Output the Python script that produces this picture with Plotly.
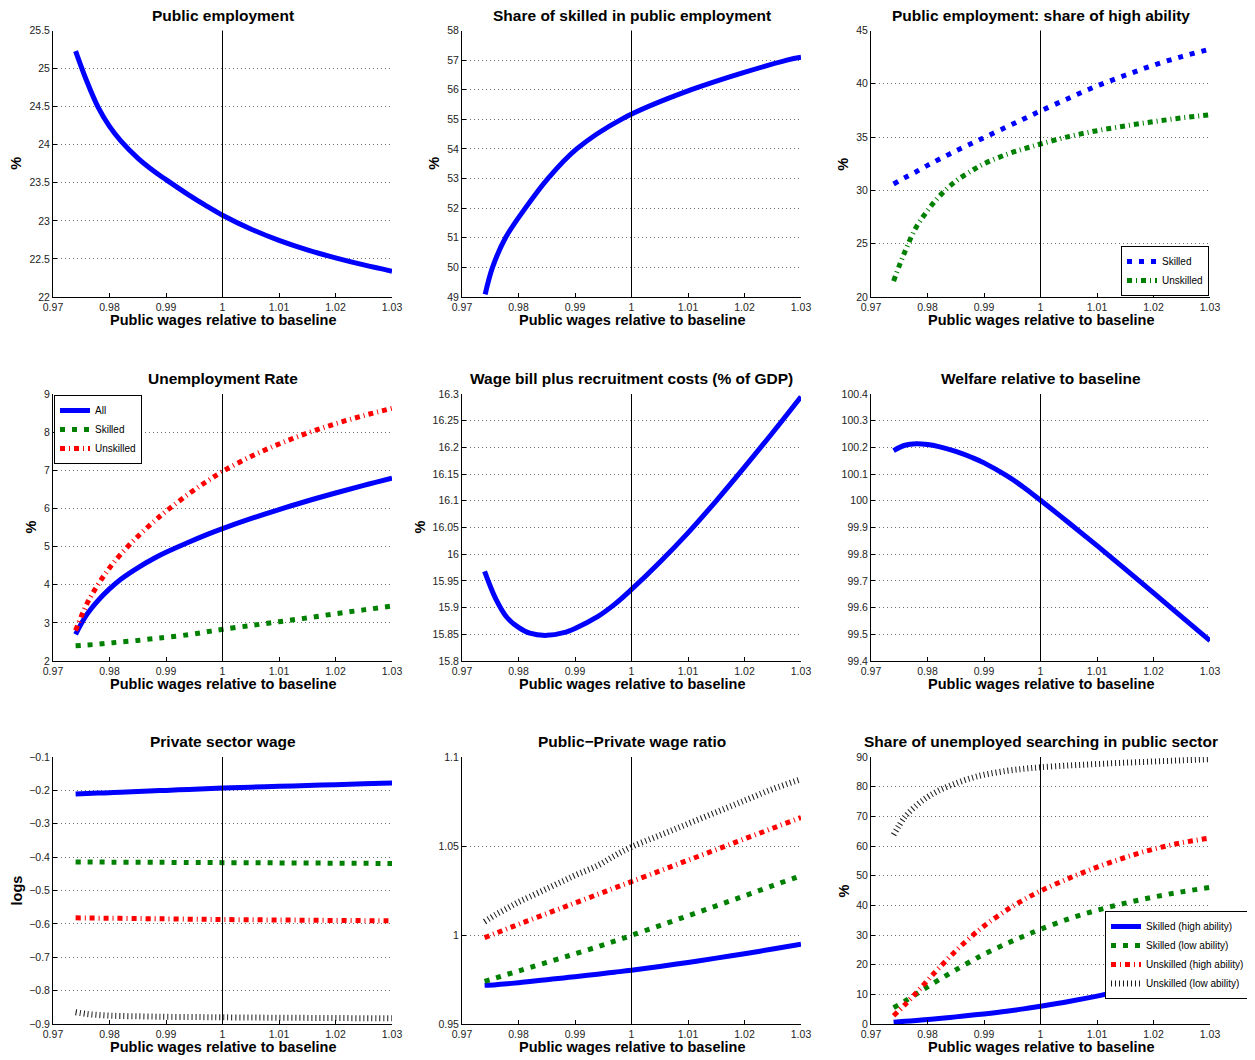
import plotly.graph_objects as go

# The page body has an 8px margin, so the figure is drawn 8px in from the
# window's top-left corner; size it so it fits the 1255x1060 window exactly.
WIN_W, WIN_H = 1255, 1060
OFF = 8
FW, FH = WIN_W - OFF, WIN_H - OFF

# ---------------- data ----------------
X = [0.974, 0.976, 0.978, 0.980, 0.982, 0.985, 0.988, 0.990, 0.994, 0.997,
     1.000, 1.005, 1.010, 1.015, 1.020, 1.025, 1.030]
x_ticks = [0.97, 0.98, 0.99, 1.0, 1.01, 1.02, 1.03]
x_ticktext = ["0.97", "0.98", "0.99", "1", "1.01", "1.02", "1.03"]

pub_emp = [25.23, 24.83, 24.49, 24.24, 24.05, 23.825, 23.645, 23.541, 23.341, 23.203,
           23.074, 22.894, 22.744, 22.619, 22.514, 22.421, 22.339]
# share of skilled: read where the curve crosses each grid line
skilled_share_x = [0.9741, 0.9754, 0.9777, 0.9812, 0.9852, 0.9903, 0.9982, 1.0106, 1.0275, 1.030]
skilled_share = [49.09, 50.0, 51.0, 52.0, 53.0, 54.0, 55.0, 56.0, 57.0, 57.1]
high_ab_skilled = [30.6, 31.2, 31.75, 32.35, 32.9, 33.7, 34.45, 34.95, 35.95, 36.7,
                   37.45, 38.65, 39.8, 40.8, 41.75, 42.55, 43.25]
high_ab_unskilled = [21.5, 24.25, 26.55, 28.1, 29.4, 30.87, 31.9, 32.5, 33.38, 33.89,
                     34.35, 35.05, 35.6, 36.05, 36.45, 36.8, 37.1]
unemp_all = [2.7, 3.22, 3.59, 3.89, 4.144, 4.444, 4.699, 4.849, 5.113, 5.3,
             5.47, 5.73, 5.97, 6.195, 6.405, 6.605, 6.795]
unemp_skilled = [2.40, 2.42, 2.44, 2.47, 2.50, 2.54, 2.59, 2.62, 2.69, 2.76,
                 2.83, 2.93, 3.03, 3.13, 3.24, 3.34, 3.44]
unemp_unskilled = [2.8, 3.5, 4.01, 4.44, 4.8, 5.265, 5.676, 5.926, 6.378, 6.687,
                   6.97, 7.36, 7.69, 7.975, 8.22, 8.435, 8.625]
wage_bill = [15.968, 15.916, 15.881, 15.863, 15.852, 15.848, 15.853, 15.861, 15.883, 15.906,
             15.934, 15.985, 16.040, 16.100, 16.163, 16.228, 16.295]
welfare = [100.188, 100.208, 100.214, 100.211, 100.203, 100.185, 100.161, 100.142, 100.094, 100.051,
           100.002, 99.918, 99.832, 99.744, 99.655, 99.565, 99.476]
pw_sh = [-0.2110, -0.2096, -0.2082, -0.2069, -0.2055, -0.2034, -0.2013, -0.2000, -0.1972, -0.1951,
         -0.1930, -0.1905, -0.1880, -0.1855, -0.1830, -0.1805, -0.1780]
pw_sl = [-0.4145, -0.4147, -0.4148, -0.4150, -0.4151, -0.4153, -0.4156, -0.4157, -0.4160, -0.4162,
         -0.4165, -0.4169, -0.4173, -0.4177, -0.4181, -0.4186, -0.4190]
pw_uh = [-0.5820, -0.5824, -0.5828, -0.5832, -0.5835, -0.5841, -0.5847, -0.5850, -0.5858, -0.5864,
         -0.5870, -0.5877, -0.5884, -0.5890, -0.5897, -0.5903, -0.5910]
pw_ul = [-0.865, -0.870, -0.873, -0.875, -0.876, -0.877, -0.878, -0.8785, -0.879, -0.8795,
         -0.880, -0.8806, -0.8812, -0.8817, -0.8822, -0.8826, -0.883]
ratio_sh = [0.9717, 0.9721, 0.9726, 0.9732, 0.9739, 0.9749, 0.9759, 0.9766, 0.9780, 0.9791,
            0.9802, 0.9823, 0.9846, 0.9870, 0.9895, 0.9921, 0.9948]
ratio_sl = [0.9740, 0.9759, 0.9779, 0.9798, 0.9817, 0.9846, 0.9875, 0.9894, 0.9934, 0.9965,
            0.9998, 1.0053, 1.0108, 1.0164, 1.0220, 1.0277, 1.0333]
ratio_uh = [0.9985, 1.0010, 1.0035, 1.0060, 1.0084, 1.0120, 1.0156, 1.0180, 1.0228, 1.0264,
            1.0300, 1.0360, 1.0420, 1.0480, 1.0540, 1.0600, 1.0660]
ratio_ul = [1.0075, 1.0115, 1.0150, 1.0185, 1.0215, 1.0260, 1.0305, 1.0335, 1.0390, 1.0445,
            1.0495, 1.0560, 1.0625, 1.0690, 1.0755, 1.0820, 1.0875]
search_sh = [0.6, 0.9, 1.2, 1.5, 1.85, 2.4, 3.0, 3.4, 4.3, 5.1,
             6.0, 7.6, 9.4, 11.4, 13.4, 15.3, 17.2]
search_sl = [5.5, 7.7, 10.1, 12.5, 14.84, 18.23, 21.47, 23.51, 27.11, 29.6,
             31.94, 35.44, 38.34, 40.74, 42.79, 44.54, 46.04]
search_uh = [2.8, 6.5, 10.5, 14.7, 18.8, 24.65, 29.9, 33.0, 38.4, 41.85,
             44.85, 49.1, 52.85, 56.15, 58.95, 61.1, 62.7]
search_ul = [63.8, 69.8, 73.6, 76.5, 78.7, 81.1, 83.05, 84.01, 85.33, 86.02,
             86.53, 87.13, 87.63, 88.08, 88.49, 88.88, 89.25]

titles = ["Public employment", "Share of skilled in public employment",
          "Public employment: share of high ability",
          "Unemployment Rate", "Wage bill plus recruitment costs (% of GDP)",
          "Welfare relative to baseline",
          "Private sector wage", "Public\u2212Private wage ratio",
          "Share of unemployed searching in public sector"]
ylabels = ["%", "%", "%", "%", "%", "", "logs", "", "%"]
yticks = [
    [22, 22.5, 23, 23.5, 24, 24.5, 25, 25.5],
    [49, 50, 51, 52, 53, 54, 55, 56, 57, 58],
    [20, 25, 30, 35, 40, 45],
    [2, 3, 4, 5, 6, 7, 8, 9],
    [15.8, 15.85, 15.9, 15.95, 16, 16.05, 16.1, 16.15, 16.2, 16.25, 16.3],
    [99.4, 99.5, 99.6, 99.7, 99.8, 99.9, 100, 100.1, 100.2, 100.3, 100.4],
    [-0.9, -0.8, -0.7, -0.6, -0.5, -0.4, -0.3, -0.2, -0.1],
    [0.95, 1.0, 1.05, 1.1],
    [0, 10, 20, 30, 40, 50, 60, 70, 80, 90],
]
yticktext = [
    ["22", "22.5", "23", "23.5", "24", "24.5", "25", "25.5"],
    ["49", "50", "51", "52", "53", "54", "55", "56", "57", "58"],
    ["20", "25", "30", "35", "40", "45"],
    ["2", "3", "4", "5", "6", "7", "8", "9"],
    ["15.8", "15.85", "15.9", "15.95", "16", "16.05", "16.1", "16.15", "16.2", "16.25", "16.3"],
    ["99.4", "99.5", "99.6", "99.7", "99.8", "99.9", "100", "100.1", "100.2", "100.3", "100.4"],
    ["\u22120.9", "\u22120.8", "\u22120.7", "\u22120.6", "\u22120.5", "\u22120.4", "\u22120.3", "\u22120.2", "\u22120.1"],
    ["0.95", "1", "1.05", "1.1"],
    ["0", "10", "20", "30", "40", "50", "60", "70", "80", "90"],
]
xlabel = "Public wages relative to baseline"

# ---------------- styles ----------------
BLUE, GREEN, RED, BLACK = "#0000ff", "#008000", "#ff0000", "#1a1a1a"
LW = 5
SOLID = dict(color=BLUE, width=LW, dash="solid")
DASH_B = dict(color=BLUE, width=LW, dash="5px,7px")
DASH_G = dict(color=GREEN, width=LW, dash="5px,7px")
DASHDOT_R = dict(color=RED, width=LW, dash="5px,4px,1px,4px")
DASHDOT_G = dict(color=GREEN, width=LW, dash="5px,4px,1px,4px")
DOT_K = dict(color=BLACK, width=6, dash="1px,3px")

FONT = "Liberation Sans, Arial, Helvetica, sans-serif"

# (panel index, x values, y values, line style, legend name, legend id)
series = [
    (1, X, pub_emp, SOLID, None, None),
    (2, skilled_share_x, skilled_share, SOLID, None, None),
    (3, X, high_ab_skilled, DASH_B, "Skilled", "legend"),
    (3, X, high_ab_unskilled, DASHDOT_G, "Unskilled", "legend"),
    (4, X, unemp_all, SOLID, "All", "legend2"),
    (4, X, unemp_skilled, DASH_G, "Skilled", "legend2"),
    (4, X, unemp_unskilled, DASHDOT_R, "Unskilled", "legend2"),
    (5, X, wage_bill, SOLID, None, None),
    (6, X, welfare, SOLID, None, None),
    (7, X, pw_sh, SOLID, None, None),
    (7, X, pw_sl, DASH_G, None, None),
    (7, X, pw_uh, DASHDOT_R, None, None),
    (7, X, pw_ul, DOT_K, None, None),
    (8, X, ratio_sh, SOLID, None, None),
    (8, X, ratio_sl, DASH_G, None, None),
    (8, X, ratio_uh, DASHDOT_R, None, None),
    (8, X, ratio_ul, DOT_K, None, None),
    (9, X, search_sh, SOLID, "Skilled (high ability)", "legend3"),
    (9, X, search_sl, DASH_G, "Skilled (low ability)", "legend3"),
    (9, X, search_uh, DASHDOT_R, "Unskilled (high ability)", "legend3"),
    (9, X, search_ul, DOT_K, "Unskilled (low ability)", "legend3"),
]

fig = go.Figure()
for p, xs, ys, ln, name, leg in series:
    sfx = "" if p == 1 else str(p)
    kw = dict(x=xs, y=ys, mode="lines", line=dict(**ln, shape="spline", smoothing=1.0),
              xaxis="x" + sfx, yaxis="y" + sfx, hoverinfo="skip")
    if name:
        kw.update(name=name, showlegend=True, legend=leg)
    else:
        kw.update(showlegend=False)
    fig.add_trace(go.Scatter(**kw))


def px(p):  # window x pixel -> paper fraction
    return (p - OFF) / FW


def py(p):  # window y pixel -> paper fraction
    return 1 - (p - OFF) / FH


# ---------------- layout ----------------
cols = [(53, 392), (462, 801), (871, 1210)]
rows = [(30.5, 297), (394, 661), (757, 1024)]
ylab_x = [16, 434, 843, 31, 420, None, 16, None, 843]

layout = dict(template="none", width=FW, height=FH,
              margin=dict(l=0, r=0, t=0, b=0, pad=0, autoexpand=False),
              paper_bgcolor="white", plot_bgcolor="white",
              font=dict(family=FONT, size=10, color="#222"))
annotations, shapes = [], []
for i in range(9):
    r, c = divmod(i, 3)
    p = i + 1
    sfx = "" if p == 1 else str(p)
    x0, x1 = cols[c]
    y0, y1 = rows[r]
    yt = yticks[i]
    layout["xaxis" + sfx] = dict(
        domain=[px(x0), px(x1)], anchor="y" + sfx, range=[0.97, 1.03],
        tickvals=x_ticks, ticktext=x_ticktext, ticks="inside", ticklen=4,
        tickcolor="black", showline=True, linecolor="black", linewidth=1,
        showgrid=False, zeroline=False, mirror=False, automargin=False,
        tickfont=dict(size=10.5, color="#222", family=FONT), fixedrange=True)
    layout["yaxis" + sfx] = dict(
        domain=[py(y1), py(y0)], anchor="x" + sfx, range=[yt[0], yt[-1]],
        tickvals=yt, ticktext=yticktext[i], ticks="inside", ticklen=4,
        tickcolor="black", showline=True, linecolor="black", linewidth=1,
        showgrid=True, gridcolor="#6f6f6f", griddash="1px,3px", gridwidth=1,
        zeroline=False, mirror=False, automargin=False,
        tickfont=dict(size=10.5, color="#222", family=FONT), fixedrange=True)
    # vertical reference line at baseline
    shapes.append(dict(type="line", xref="x" + sfx, yref="y" + sfx + " domain",
                       x0=1, x1=1, y0=0, y1=1, line=dict(color="black", width=1)))
    cx = (x0 + x1) / 2
    annotations.append(dict(text=titles[i], x=px(cx), y=py(y0 - 5),
                            xref="paper", yref="paper", xanchor="center", yanchor="bottom",
                            showarrow=False,
                            font=dict(family=FONT, size=15.5, color="black", weight="bold")))
    annotations.append(dict(text=xlabel, x=px(cx), y=py(y1 + 23),
                            xref="paper", yref="paper", xanchor="center", yanchor="middle",
                            showarrow=False,
                            font=dict(family=FONT, size=14.5, color="black", weight="bold")))
    if ylabels[i]:
        annotations.append(dict(text=ylabels[i], x=px(ylab_x[i]), y=py((y0 + y1) / 2),
                                xref="paper", yref="paper", xanchor="center", yanchor="middle",
                                textangle=-90, showarrow=False,
                                font=dict(family=FONT, size=14.5, color="black", weight="bold")))

leg_common = dict(bgcolor="white", bordercolor="black", borderwidth=1,
                  font=dict(family=FONT, size=10, color="black"), itemwidth=30,
                  tracegroupgap=0, itemclick=False, itemdoubleclick=False)
layout["legend"] = dict(x=px(1209), y=py(296), xanchor="right", yanchor="bottom",
                        xref="paper", yref="paper", **leg_common)
layout["legend2"] = dict(x=px(54), y=py(395), xanchor="left", yanchor="top",
                         xref="paper", yref="paper", **leg_common)
layout["legend3"] = dict(x=px(1250), y=py(911), xanchor="right", yanchor="top",
                         xref="paper", yref="paper", **leg_common)
layout["annotations"] = annotations
layout["shapes"] = shapes
fig.update_layout(**layout)

fig.write_html("out.html", config={"displayModeBar": False})
